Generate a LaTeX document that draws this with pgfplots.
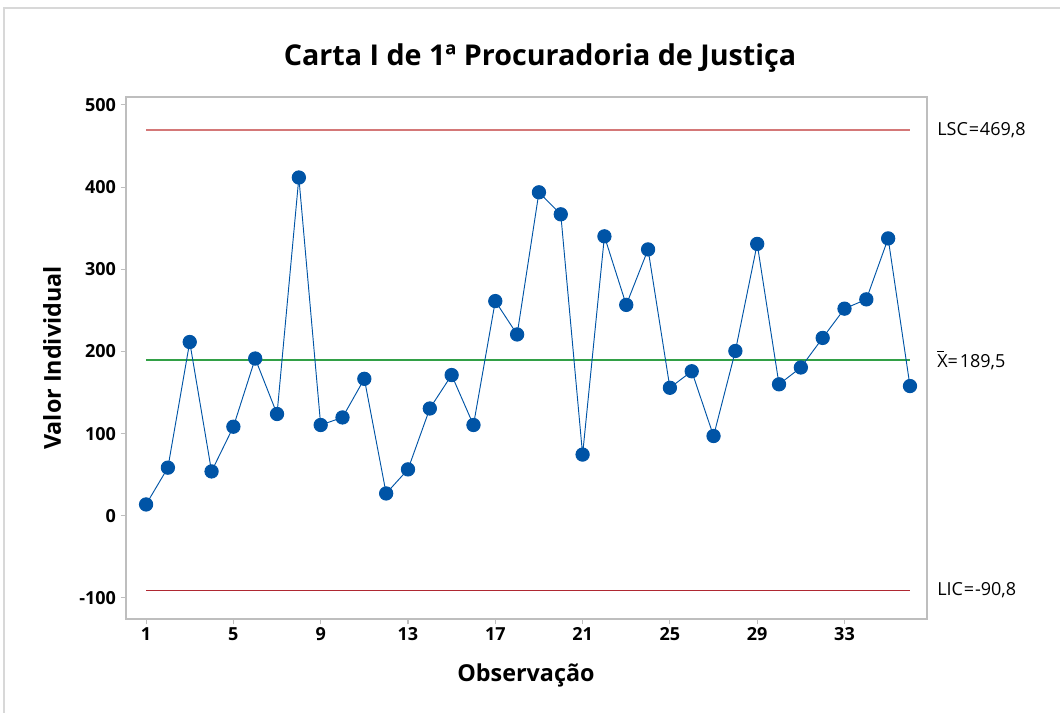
\documentclass[border=0pt]{standalone}
\usepackage{pgfplots}
\pgfplotsset{compat=1.18}
\usepackage{fontspec}
\setmainfont{Open Sans}
\definecolor{ptblue}{RGB}{0,84,166}
\definecolor{lscred}{RGB}{212,120,120}
\definecolor{licred}{RGB}{175,40,50}
\definecolor{cgreen}{RGB}{50,160,70}
\definecolor{framegray}{RGB}{190,190,190}
\newcommand{\xbar}{\makebox[0pt][l]{\raisebox{0.86em}{\rule{0.38em}{0.06em}}}X}
\begin{document}
\begin{tikzpicture}
\path[use as bounding box] (0,0) rectangle (795pt,534.75pt);
\draw[framegray!60, line width=0.8pt] (3pt,0) -- (3pt,528.75pt) -- (800pt,528.75pt);
\begin{axis}[
  at={(94.5pt,70.5pt)}, anchor=south west,
  width=600.75pt, height=391.5pt, scale only axis,
  xmin=0.08, xmax=36.78, ymin=-125.6, ymax=509.7,
  xtick={1,5,9,13,17,21,25,29,33},
  ytick={-100,0,100,200,300,400,500},
  tick align=outside, tick pos=left,
  major tick length=4pt,
  axis line style={framegray, line width=0.8pt},
  tick style={framegray, line width=0.8pt},
  /pgf/number format/assume math mode=true,
  ticklabel style={font=\fontsize{13.5}{16}\selectfont\bfseries},
  xticklabel style={yshift=1pt},
  clip=false,
]
\addplot[lscred, line width=1.3pt, forget plot] coordinates {(1,469.8) (36,469.8)};
\addplot[cgreen, line width=1.1pt, forget plot] coordinates {(1,189.5) (36,189.5)};
\addplot[licred, line width=1.1pt, forget plot] coordinates {(1,-90.8) (36,-90.8)};
\addplot[ptblue, line width=0.7pt, mark=*, mark size=5pt, mark options={fill=ptblue, draw=ptblue}] coordinates {
(1,13.8) (2,58.6) (3,211.5) (4,54.0) (5,108.4) (6,191.4) (7,123.9) (8,411.7)
(9,110.5) (10,119.7) (11,166.7) (12,27.2) (13,56.5) (14,130.6) (15,171.3) (16,110.5)
(17,261.3) (18,220.7) (19,393.7) (20,366.9) (21,74.5) (22,340.1) (23,256.7) (24,324.2)
(25,155.8) (26,175.9) (27,97.1) (28,200.6) (29,330.9) (30,160.0) (31,180.5) (32,216.5)
(33,252.1) (34,263.4) (35,337.6) (36,157.9)};
\node[anchor=west, font=\fontsize{13.5}{16}\selectfont, inner sep=0pt] at (axis cs:36.78,469.8) [xshift=7.5pt] {LSC\kern0.05em=\kern0.05em469,8};
\node[anchor=west, font=\fontsize{13.5}{16}\selectfont, inner sep=0pt] at (axis cs:36.78,189.5) [xshift=7.5pt] {\xbar=\kern0.1em189,5};
\node[anchor=west, font=\fontsize{13.5}{16}\selectfont, inner sep=0pt] at (axis cs:36.78,-90.8) [xshift=7.5pt] {LIC\kern0.05em=\kern0.05em-90,8};
\end{axis}
\node[font=\fontsize{21.5}{26}\selectfont\bfseries] at (405pt,491.25pt) {Carta I de 1ª Procuradoria de Justiça};
\node[font=\fontsize{17.5}{21}\selectfont\bfseries, rotate=90] at (39pt,266.25pt) {Valor Individual};
\node[font=\fontsize{17.5}{21}\selectfont\bfseries] at (394.5pt,28.5pt) {Observação};
\end{tikzpicture}
\end{document}
